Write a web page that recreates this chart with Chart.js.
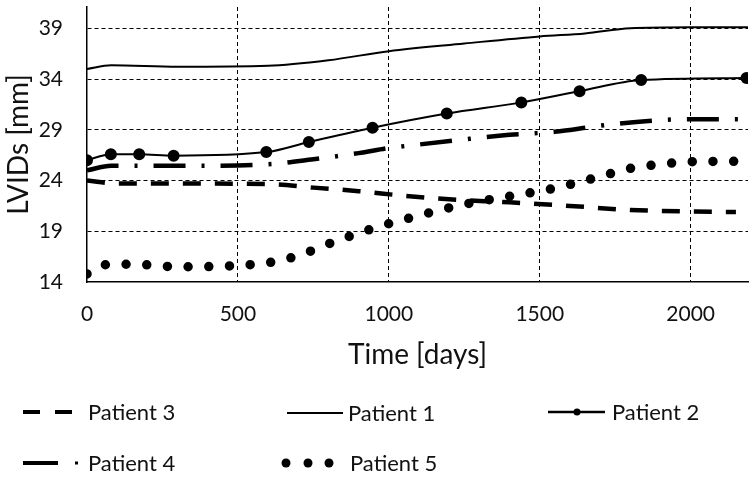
<!DOCTYPE html>
<html lang="en">
  <head>
    <meta charset="UTF-8" />
    <title>LVIDs</title>
    <script src="https://cdn.jsdelivr.net/npm/chart.js"></script>
    <style>
      html, body { margin: 0; padding: 0; background: #fff; }
      #wrap { width: 756px; height: 483px; }
    </style>
  </head>
  <body>
    <div id="wrap">
      <canvas id="myChart" width="756" height="483"></canvas>
    </div>

    <script>
      // tick labels
      const xTicks = [0, 500, 1000, 1500, 2000];
      const yTicks = [14, 19, 24, 29, 34, 39];

      // Patient 1 - solid line
      const p1Days = [0, 80, 300, 600, 800, 1000, 1250, 1500, 1650, 1800, 2000, 2190];
      const p1Vals = [35.0, 35.35, 35.2, 35.3, 35.85, 36.75, 37.5, 38.2, 38.5, 39.0, 39.1, 39.1];

      // Patient 2 - solid line with markers
      const p2Days = [0, 79, 173, 287, 594, 735, 946, 1192, 1439, 1632, 1836, 2185];
      const p2Vals = [26.0, 26.6, 26.6, 26.45, 26.8, 27.8, 29.2, 30.6, 31.7, 32.8, 33.9, 34.1];

      // Patient 3 - dashed
      const p3Days = [0, 100, 300, 600, 750, 900, 1050, 1200, 1400, 1600, 1800, 2000, 2150];
      const p3Vals = [24.0, 23.7, 23.7, 23.65, 23.3, 22.95, 22.5, 22.15, 21.85, 21.5, 21.1, 20.95, 20.9];

      // Patient 4 - dash dot
      const p4Days = [0, 80, 300, 600, 750, 900, 1000, 1100, 1250, 1400, 1550, 1700, 1850, 2000, 2190];
      const p4Vals = [25.0, 25.45, 25.45, 25.6, 26.1, 26.7, 27.2, 27.55, 28.05, 28.5, 28.8, 29.4, 29.85, 30.05, 30.05];

      // Patient 5 - round dots
      const p5Days = [0, 60, 150, 300, 480, 600, 700, 800, 950, 1100, 1250, 1400, 1550, 1700, 1800, 1900, 2000, 2190];
      const p5Vals = [14.8, 15.7, 15.75, 15.5, 15.6, 15.9, 16.6, 17.75, 19.3, 20.55, 21.65, 22.45, 23.25, 24.4, 25.2, 25.6, 25.85, 25.9];

      const pts = (d, v) => d.map((x, i) => ({ x: x, y: v[i] }));

      Chart.defaults.font.family = "Lato";
      Chart.defaults.color = "#111";

      const base = {
        borderColor: "#000",
        backgroundColor: "#000",
        pointRadius: 0,
        cubicInterpolationMode: "monotone",
        fill: false,
      };

      const data = {
        datasets: [
          { ...base, label: "Patient 3", data: pts(p3Days, p3Vals), borderWidth: 4.5, borderDash: [18, 14] },
          { ...base, label: "Patient 1", data: pts(p1Days, p1Vals), borderWidth: 2 },
          { ...base, label: "Patient 2", data: pts(p2Days, p2Vals), borderWidth: 2, pointRadius: 5 },
          { ...base, label: "Patient 4", data: pts(p4Days, p4Vals), borderWidth: 4.5, borderDash: [32, 16, 3, 16] },
          { ...base, label: "Patient 5", data: pts(p5Days, p5Vals), borderWidth: 9.5, borderDash: [0, 20.7], borderCapStyle: "round" },
        ],
      };

      // legend drawn by hand, two rows like the original
      const legendPlugin = {
        id: "handLegend",
        afterDraw(chart) {
          const ctx = chart.ctx;
          ctx.save();
          ctx.strokeStyle = "#000";
          ctx.fillStyle = "#000";
          const line = (x1, x2, y, w) => {
            ctx.lineWidth = w;
            ctx.beginPath();
            ctx.moveTo(x1, y);
            ctx.lineTo(x2, y);
            ctx.stroke();
          };
          const dot = (x, y, r) => {
            ctx.beginPath();
            ctx.arc(x, y, r, 0, Math.PI * 2);
            ctx.fill();
          };
          // row 1
          line(23, 40, 412, 4);
          line(55, 72, 412, 4);
          line(287, 343, 413, 2);
          line(548, 605, 412, 2.5);
          dot(577, 412, 3.5);
          // row 2
          line(23, 58, 463, 4);
          ctx.fillRect(75, 461.5, 3, 3);
          dot(286, 463, 4.5);
          dot(308, 463, 4.5);
          dot(329, 463, 4.5);

          ctx.font = "22px Lato";
          ctx.fillStyle = "#111";
          ctx.textBaseline = "alphabetic";
          ctx.fillText("Patient 3", 88, 420);
          ctx.fillText("Patient 1", 348, 421);
          ctx.fillText("Patient 2", 612, 420);
          ctx.fillText("Patient 4", 88, 471);
          ctx.fillText("Patient 5", 350, 471);
          ctx.restore();
        },
      };

      const config = {
        type: "line",
        data: data,
        plugins: [legendPlugin],
        options: {
          responsive: false,
          animation: false,
          layout: { padding: { left: 0, right: 8, top: 5, bottom: 107 } },
          plugins: { legend: { display: false }, tooltip: { enabled: false } },
          scales: {
            x: {
              type: "linear",
              min: 0,
              max: 2190,
              afterBuildTicks: (s) => { s.ticks = xTicks.map((v) => ({ value: v })); },
              afterFit: (s) => {
                s.height = 94;
                s.paddingLeft = 0;
                s.paddingRight = 0;
              },
              ticks: { padding: 20, font: { size: 21 }, callback: (v) => String(v) },
              grid: {
                color: (c) => (c.tick && c.tick.value === 0 ? "rgba(0,0,0,0)" : "#000"),
                lineWidth: 1,
                drawTicks: false,
              },
              border: { color: "#000", width: 1.5, dash: [4, 3] },
              title: { display: true, text: "Time [days]", font: { size: 28 }, padding: { top: 0, bottom: 4 } },
            },
            y: {
              min: 14,
              max: 41.1,
              afterBuildTicks: (s) => { s.ticks = yTicks.map((v) => ({ value: v })); },
              afterFit: (s) => {
                s.width = 87;
                s.paddingTop = 0;
                s.paddingBottom = 0;
              },
              ticks: { padding: 24, font: { size: 21 }, callback: (v) => String(v) },
              grid: {
                color: (c) => (c.tick && c.tick.value === 14 ? "rgba(0,0,0,0)" : "#000"),
                lineWidth: 1,
                drawTicks: false,
              },
              border: { color: "#000", width: 1.5, dash: [4, 3] },
              title: { display: true, text: "LVIDs [mm]", font: { size: 28 }, padding: { top: 2, bottom: 0 } },
            },
          },
        },
      };

      const myChart = new Chart(document.getElementById("myChart"), config);
    </script>
  </body>
</html>
